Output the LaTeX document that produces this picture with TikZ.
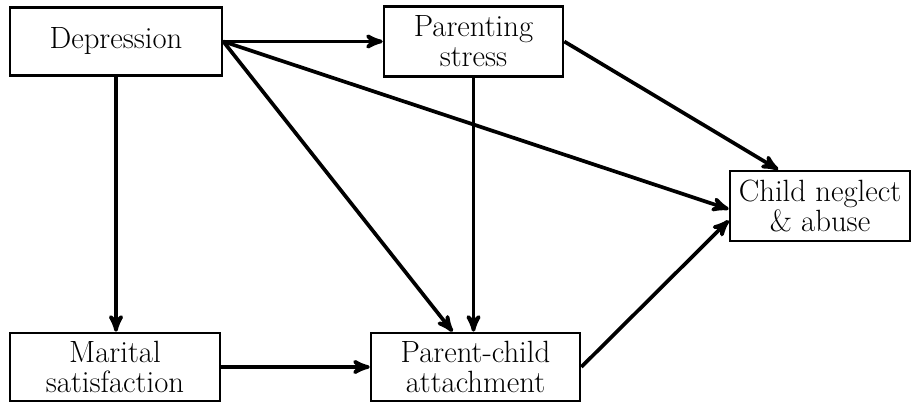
\documentclass[tikz,border=0pt]{standalone}
\usepackage{tikz}
\usetikzlibrary{arrows}

\begin{document}
\begin{tikzpicture}[->,
	>=stealth',
	x=0.02cm, y=-0.02cm,
	line width=2.1pt,
	box/.style={draw, -, line width=1.5pt, align=center, inner sep=0pt,
		font=\fontsize{17.5}{17}\selectfont}]
	
	\useasboundingbox (0,0) rectangle (919,404);
	
	\node[box, minimum width=4.24cm, minimum height=1.36cm] (dep) at (116,41.5) {Depression};
	\node[box, minimum width=3.58cm, minimum height=1.40cm] (ps) at (473.5,41.5) {Parenting\\stress};
	\node[box, minimum width=3.60cm, minimum height=1.40cm] (cna) at (820,206) {Child neglect\\\& abuse};
	\node[box, minimum width=4.20cm, minimum height=1.36cm] (ms) at (115,367) {Marital\\satisfaction};
	\node[box, minimum width=4.18cm, minimum height=1.36cm] (pca) at (475.5,367) {Parent-child\\attachment};
	
	\draw (dep.east) -- (ps.west);
	\draw (dep.south) -- (dep.south |- ms.north);
	\draw (dep.east) -- (pca.123);
	\draw (dep.east) -- (cna.182);
	\draw (ps.south) -- (ps.south |- pca.north);
	\draw (ps.east) -- (cna.139);
	\draw (ms.east) -- (pca.west);
	\draw (pca.east) -- (cna.189);
\end{tikzpicture}
\end{document}
